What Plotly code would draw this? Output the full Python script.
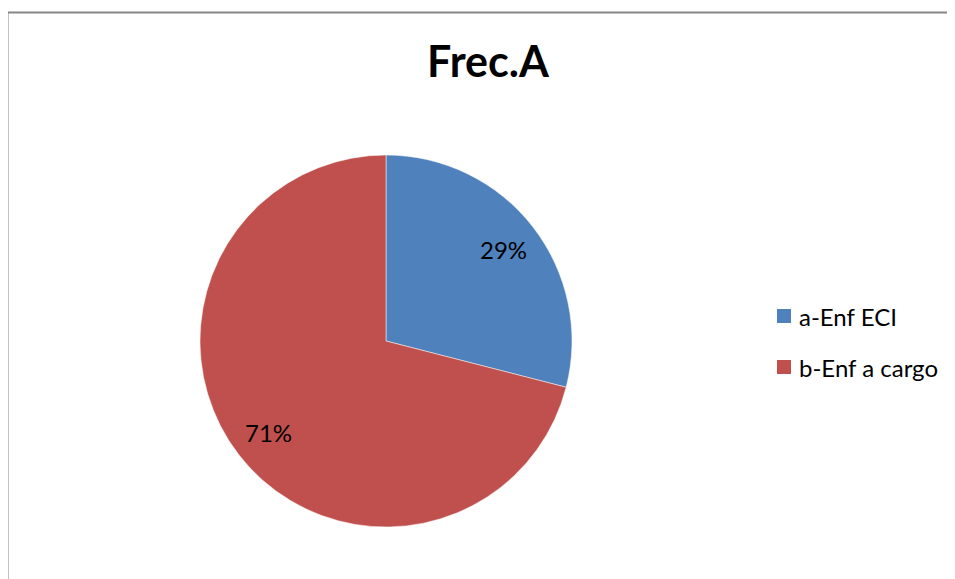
import math
import plotly.graph_objects as go

# a página html tem margem de 8px no body: a figura começa em (8, 8)
OFF = 8
W, H = 955 - OFF, 579 - OFF

etiquetas = ["a-Enf ECI", "b-Enf a cargo"]
valores = [29, 71]
cores = ["#4F81BD", "#C0504D"]
titulo = "Frec.A"

FONTE = "Lato, 'Open Sans', sans-serif"


def px_x(x):
    return (x - OFF) / W


def px_y(y):
    return 1 - (y - OFF) / H


centro_x, centro_y, raio = 386, 341, 186

fig = go.Figure()

fig.add_trace(go.Pie(
    labels=etiquetas,
    values=valores,
    marker=dict(colors=cores, line=dict(color="white", width=0.5)),
    sort=False,
    direction="clockwise",
    rotation=0,
    textinfo="none",
    domain=dict(
        x=[px_x(centro_x - raio), px_x(centro_x + raio)],
        y=[px_y(centro_y + raio), px_y(centro_y - raio)],
    ),
    showlegend=False,
    hoverinfo="label+percent",
))

formas = [dict(
    type="rect", xref="paper", yref="paper",
    x0=px_x(7.5), x1=px_x(955 + 10), y0=px_y(579 + 10), y1=px_y(12.5),
    line=dict(color="#868686", width=2), fillcolor="rgba(0,0,0,0)",
)]
anotacoes = []

# rótulos de percentagem a ~80% do raio, como no Excel
total = sum(valores)
acumulado = 0
for v in valores:
    ang = 2 * math.pi * (acumulado + v / 2) / total
    acumulado += v
    anotacoes.append(dict(
        x=px_x(centro_x + 0.8 * raio * math.sin(ang)),
        y=px_y(centro_y - 0.8 * raio * math.cos(ang)),
        xref="paper", yref="paper",
        text=f"{round(100 * v / total)}%", showarrow=False,
        xanchor="center", yanchor="middle",
        font=dict(family=FONTE, size=24, color="black"),
    ))

# legenda desenhada à mão para acertar o espaçamento
for i, (nome, cor) in enumerate(zip(etiquetas, cores)):
    yc = 316 + i * 51
    formas.append(dict(
        type="rect", xref="paper", yref="paper",
        x0=px_x(777), x1=px_x(791), y0=px_y(yc + 7), y1=px_y(yc - 7),
        line=dict(width=0), fillcolor=cor,
    ))
    anotacoes.append(dict(
        x=px_x(797), y=px_y(yc), xref="paper", yref="paper",
        text=nome, showarrow=False, xanchor="left", yanchor="middle",
        font=dict(family=FONTE, size=24, color="black"),
    ))

fig.update_layout(
    width=W,
    height=H,
    margin=dict(l=0, r=0, t=0, b=0),
    title=dict(
        text="<b>" + titulo + "</b>",
        x=px_x(488), xanchor="center",
        y=px_y(62), yanchor="middle",
        font=dict(family=FONTE, size=43, color="black"),
    ),
    shapes=formas,
    annotations=anotacoes,
    paper_bgcolor="white",
    plot_bgcolor="white",
)

fig.write_html("out.html")
